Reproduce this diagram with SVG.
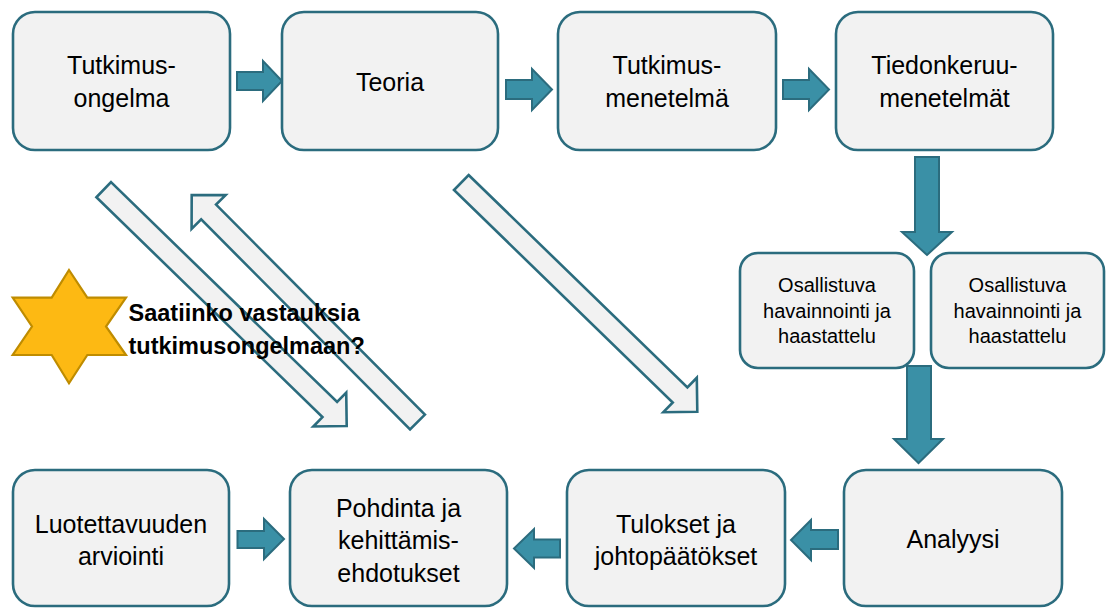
<svg xmlns="http://www.w3.org/2000/svg" width="1112" height="608" viewBox="0 0 1112 608">
<style>
.box{fill:#F2F2F2;stroke:#2B6C7E;stroke-width:2.6}
.t{font-family:"Liberation Sans",Arial,sans-serif;font-size:25px;fill:#000;text-anchor:middle}
.s{font-family:"Liberation Sans",Arial,sans-serif;font-size:20px;fill:#000;text-anchor:middle}
.q{font-family:"Liberation Sans",Arial,sans-serif;font-size:23.5px;font-weight:bold;fill:#000}
.ba{fill:#3A90A6;stroke:#2B6C7E;stroke-width:2}
.da{fill:#F2F2F2;stroke:#2B6C7E;stroke-width:2.6;stroke-linejoin:miter}
</style>
<rect width="1112" height="608" fill="#FFFFFF"/>
<g id="connectors">
<polygon class="ba" points="237,72 263,72 263,61 282,81 263,101 263,90 237,90"/>
<polygon class="ba" points="506,80 532,80 532,69 552,89.5 532,110 532,99 506,99"/>
<polygon class="ba" points="783,80 809,80 809,69 829,89.5 809,110 809,99 783,99"/>
<polygon class="ba" points="915,157 939,157 939,232 952,232 927,255 902,232 915,232"/>
<polygon class="ba" points="907,366 931,366 931,439 943,439 918.5,463 894,439 907,439"/>
<polygon class="ba" points="237.5,531 264,531 264,519 284,539 264,559 264,548 237.5,548"/>
<polygon class="ba" points="560,539.5 534,539.5 534,529 514,548.5 534,568 534,557.5 560,557.5"/>
<polygon class="ba" points="838,530 811,530 811,520 791,540 811,560 811,549 838,549"/>
<polygon class="da" points="111.02,182.17 337.1,402.02 346.23,392.63 346.7,426 313.33,426.47 322.46,417.08 96.38,197.23"/>
<polygon class="da" points="424.94,414.6 216.06,204.62 225.64,195.1 191.7,195 191.6,228.94 201.18,219.42 410.06,429.4"/>
<polygon class="da" points="468.62,174.97 687.4,387.45 696.8,377.76 697.3,411.7 663.36,412.2 672.76,402.51 453.98,190.03"/>
</g>
<g id="n-tutkimusongelma">
<rect class="box" x="13" y="12" width="217" height="138" rx="22"/>
<text class="t" x="121.5" y="74">Tutkimus-</text>
<text class="t" x="121.5" y="107">ongelma</text>
</g>
<g id="n-teoria">
<rect class="box" x="282" y="12" width="216" height="138" rx="22"/>
<text class="t" x="390" y="91">Teoria</text>
</g>
<g id="n-tutkimusmenetelma">
<rect class="box" x="558" y="12" width="218" height="138" rx="22"/>
<text class="t" x="667" y="74">Tutkimus-</text>
<text class="t" x="667" y="107">menetelmä</text>
</g>
<g id="n-tiedonkeruu">
<rect class="box" x="836" y="12" width="217" height="138" rx="22"/>
<text class="t" x="944.5" y="74">Tiedonkeruu-</text>
<text class="t" x="944.5" y="107">menetelmät</text>
</g>
<g id="n-osallistuva1">
<rect class="box" x="740" y="253" width="174" height="115" rx="18"/>
<text class="s" x="827" y="292">Osallistuva</text>
<text class="s" x="827" y="318">havainnointi ja</text>
<text class="s" x="827" y="343">haastattelu</text>
</g>
<g id="n-osallistuva2">
<rect class="box" x="931" y="253" width="173" height="115" rx="18"/>
<text class="s" x="1017.5" y="292">Osallistuva</text>
<text class="s" x="1017.5" y="318">havainnointi ja</text>
<text class="s" x="1017.5" y="343">haastattelu</text>
</g>
<g id="n-luotettavuus">
<rect class="box" x="13" y="470" width="216" height="136" rx="22"/>
<text class="t" x="121" y="533">Luotettavuuden</text>
<text class="t" x="121" y="565">arviointi</text>
</g>
<g id="n-pohdinta">
<rect class="box" x="290" y="470" width="217" height="136" rx="22"/>
<text class="t" x="398.5" y="517">Pohdinta ja</text>
<text class="t" x="398.5" y="549">kehittämis-</text>
<text class="t" x="398.5" y="582">ehdotukset</text>
</g>
<g id="n-tulokset">
<rect class="box" x="567" y="470" width="218" height="136" rx="22"/>
<text class="t" x="676" y="533">Tulokset ja</text>
<text class="t" x="676" y="565">johtopäätökset</text>
</g>
<g id="n-analyysi">
<rect class="box" x="844" y="470" width="218" height="136" rx="22"/>
<text class="t" x="953" y="548">Analyysi</text>
</g>
<g id="n-star">
<polygon points="69,270 87.3,297.7 126,297.7 106,326.5 126,355 87.3,355 69,383.3 51.7,355 12.7,355 32,326.5 12.7,297.7 51.7,297.7" fill="#FDB913" stroke="#BF8C00" stroke-width="2.2"/>
<text class="q" x="128.5" y="320.5">Saatiinko vastauksia</text>
<text class="q" x="128.5" y="353.5">tutkimusongelmaan?</text>
</g>
</svg>
